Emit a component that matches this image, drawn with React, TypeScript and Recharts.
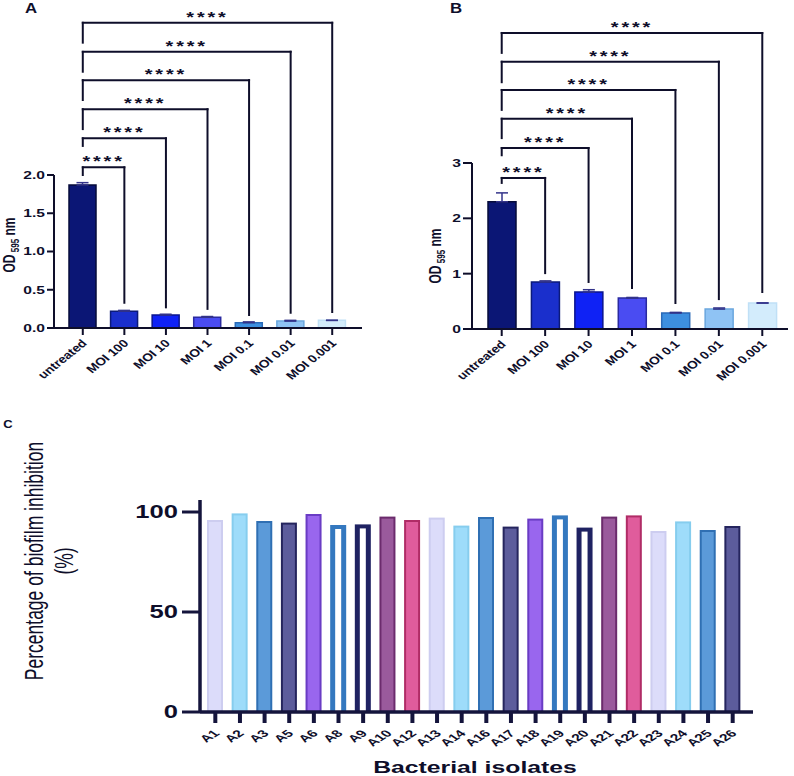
import React from 'react';
import { BarChart, Bar, XAxis, YAxis, Cell, ErrorBar, ReferenceLine } from 'recharts';

const FONT = '"Liberation Sans", Arial, sans-serif';
const INK = '#0e0e2a';
const SX = 1.42; // glyphs in this figure are drawn wide

const treatments = ['untreated', 'MOI 100', 'MOI 10', 'MOI 1', 'MOI 0.1', 'MOI 0.01', 'MOI 0.001'];

// panel A: OD595 per treatment
const odA = [1.87, 0.22, 0.17, 0.14, 0.07, 0.09, 0.1];
const errA = [0.03, 0.01, 0.01, 0.01, 0.01, 0.01, 0];
// panel B: OD595 per treatment
const odB = [2.3, 0.85, 0.67, 0.56, 0.29, 0.36, 0.47];
const errB = [0.16, 0.02, 0.04, 0.01, 0.01, 0.02, 0];

// significance brackets, untreated vs MOI 100 ... MOI 0.001 (innermost first)
const sigLabels = ['****', '****', '****', '****', '****', '****'];
const bracketA = [2.1, 2.48, 2.86, 3.24, 3.61, 3.99];
const legA = [2.0, 2.38, 2.6, 2.98, 3.35, 3.73];
const dropA = [0.33, 0.27, 0.25, 0.17, 0.2, 0.21];
const bracketB = [2.73, 3.27, 3.8, 4.32, 4.83, 5.35];
const legB = [2.64, 3.14, 3.45, 3.96, 4.46, 4.99];
const dropB = [1.01, 0.85, 0.74, 0.47, 0.54, 0.67];

const ticksA = [0, 0.5, 1, 1.5, 2];
const ticksB = [0, 1, 2, 3];

const treatmentFill = ['#0b1675', '#1a2fcc', '#0f22f5', '#4a4cf2', '#3d8fe0', '#8fc3f4', '#d3ecfc'];
const treatmentStroke = ['#060b3a', '#0b1a7a', '#0a148f', '#2a2aa0', '#2a6ab8', '#6aa6de', '#c0e0f6'];

// panel C: biofilm inhibition per isolate
const isolates = ['A1', 'A2', 'A3', 'A5', 'A6', 'A8', 'A9', 'A10', 'A12', 'A13', 'A14', 'A16', 'A17', 'A18', 'A19', 'A20', 'A21', 'A22', 'A23', 'A24', 'A25', 'A26'];
const inhibition = [96, 99.3, 95.5, 94.7, 99, 93.5, 93.8, 97.7, 96, 97.2, 93.2, 97.5, 92.7, 96.7, 98.3, 92.2, 97.7, 98.3, 90.5, 95.3, 91, 93];
const ticksC = [0, 50, 100];

// colour cycle for the isolates (repeats every 9 bars)
const isoFill = ['#dcdcfa', '#9edcfa', '#5b9ad9', '#5c5c9c', '#9966ee', '#ffffff', '#ffffff', '#9a5a9c', '#e05c9c'];
const isoStroke = ['#cdcdf0', '#86cdee', '#2f6fb3', '#25255e', '#6a3cc4', '#3478bf', '#1f2262', '#6b2b6c', '#b02c66'];
const isoHollow = [false, false, false, false, false, true, true, false, false];

const SlantTick = (props: any) => {
  const { x, y, payload, size, dx, dy, sx } = props;
  return (
    <text
      transform={`translate(${x + dx},${y + dy}) scale(${sx},1) rotate(-45)`}
      textAnchor="end"
      fontSize={size}
      fontWeight="bold"
      fontFamily={FONT}
      fill={INK}
    >
      {payload.value}
    </text>
  );
};

const ValueTick = (props: any) => {
  const { x, y, payload, size, digits } = props;
  return (
    <text
      transform={`translate(${x},${y}) scale(${SX},1)`}
      textAnchor="end"
      dy="0.36em"
      fontSize={size}
      fontWeight="bold"
      fontFamily={FONT}
      fill={INK}
    >
      {Number(payload.value).toFixed(digits)}
    </text>
  );
};

const Stars = (props: any) => {
  const vb = props.viewBox || {};
  const x1 = vb.x1 ?? vb.x;
  const x2 = vb.x2 ?? vb.x + vb.width;
  const y = vb.y1 ?? vb.y;
  return (
    <text
      transform={`translate(${(x1 + x2) / 2},${y - 1}) scale(${SX},1)`}
      textAnchor="middle"
      fontSize={14}
      fontWeight="bold"
      letterSpacing={2}
      fontFamily={FONT}
      fill={INK}
    >
      {props.text}
    </text>
  );
};

const IsolateBar = (props: any) => {
  const { x, y, width, height } = props;
  const i = props.payload?.i ?? props.index ?? 0;
  const k = i % 9;
  if (isoHollow[k]) {
    return (
      <g>
        <rect x={x} y={y} width={width} height={height} fill={isoStroke[k]} />
        <rect x={x + 5} y={y + 4} width={width - 10} height={height - 4} fill="#fff" />
      </g>
    );
  }
  return (
    <rect x={x + 1} y={y + 1} width={width - 2} height={height - 1} fill={isoFill[k]} stroke={isoStroke[k]} strokeWidth={2} />
  );
};

const ODPanel = (p: any) => {
  const data = treatments.map((name, i) => ({ name, od: p.values[i], err: [0, p.errs[i]] }));
  const line = { stroke: INK, strokeWidth: 2, ifOverflow: 'visible' as const, strokeLinecap: 'square' as const };
  return (
    <BarChart width={p.width} height={390} data={data} margin={p.margin}>
      <XAxis
        dataKey="name"
        interval={0}
        height={p.xHeight}
        padding={p.padding}
        axisLine={{ stroke: INK, strokeWidth: 2 }}
        tickLine={{ stroke: INK, strokeWidth: 2 }}
        tickSize={7}
        tick={<SlantTick size={11} dx={5} dy={7} sx={1.25} />}
      />
      <YAxis
        width={p.yWidth}
        domain={[0, p.yMax]}
        ticks={p.ticks}
        interval={0}
        axisLine={{ stroke: INK, strokeWidth: 2 }}
        tickLine={{ stroke: INK, strokeWidth: 2 }}
        tickSize={p.tickSize}
        tickMargin={2}
        tick={<ValueTick size={11} digits={p.digits} />}
      />
      <Bar dataKey="od" barSize={p.barSize} strokeWidth={1.5} isAnimationActive={false}>
        {data.map((d, i) => (
          <Cell key={d.name} fill={treatmentFill[i]} stroke={treatmentStroke[i]} />
        ))}
        <ErrorBar dataKey="err" width={6} stroke="#33338a" strokeWidth={1.5} direction="y" isAnimationActive={false} />
      </Bar>
      {p.brackets.map((h: number, i: number) => {
        const target = treatments[i + 1];
        return [
          <ReferenceLine
            key={`top${i}`}
            segment={[{ x: treatments[0], y: h }, { x: target, y: h }]}
            {...line}
            label={<Stars text={sigLabels[i]} />}
          />,
          <ReferenceLine key={`leg${i}`} segment={[{ x: treatments[0], y: h }, { x: treatments[0], y: p.legs[i] }]} {...line} />,
          <ReferenceLine key={`drop${i}`} segment={[{ x: target, y: h }, { x: target, y: p.drops[i] }]} {...line} />,
        ];
      })}
    </BarChart>
  );
};

const IsolatePanel = () => {
  const data = isolates.map((name, i) => ({ name, i, value: inhibition[i] }));
  return (
    <BarChart width={794} height={396} data={data} margin={{ top: 120, right: 41, left: 0, bottom: 0 }}>
      <XAxis
        dataKey="name"
        interval={0}
        height={64}
        padding={{ left: 3, right: 8 }}
        axisLine={{ stroke: '#14143c', strokeWidth: 3.5 }}
        tickLine={{ stroke: '#14143c', strokeWidth: 4 }}
        tickSize={11}
        tick={<SlantTick size={10} dx={5} dy={9} sx={1.55} />}
      />
      <YAxis
        width={200}
        domain={[0, 106]}
        ticks={ticksC}
        interval={0}
        axisLine={{ stroke: '#14143c', strokeWidth: 3.5 }}
        tickLine={{ stroke: '#14143c', strokeWidth: 3 }}
        tickSize={18}
        tickMargin={4}
        tick={<ValueTick size={18} digits={0} />}
      />
      <Bar dataKey="value" barSize={16} shape={<IsolateBar />} isAnimationActive={false} />
    </BarChart>
  );
};

const title = (extra: React.CSSProperties): React.CSSProperties => ({
  position: 'absolute',
  whiteSpace: 'nowrap',
  fontFamily: FONT,
  color: INK,
  lineHeight: 1.2,
  ...extra,
});

export default function App() {
  return (
    <div style={{ position: 'absolute', left: 0, top: 0, width: 794, height: 776, background: '#fff', overflow: 'hidden' }}>
      <div style={{ position: 'absolute', left: 0, top: 0 }}>
        <ODPanel
          width={400}
          margin={{ top: 175, right: 38, left: 0, bottom: 0 }}
          xHeight={62}
          yWidth={54}
          padding={{ left: 8, right: 9 }}
          values={odA}
          errs={errA}
          yMax={2}
          ticks={ticksA}
          tickSize={7}
          digits={1}
          barSize={27}
          brackets={bracketA}
          legs={legA}
          drops={dropA}
        />
      </div>
      <div style={{ position: 'absolute', left: 400, top: 0 }}>
        <ODPanel
          width={394}
          margin={{ top: 163, right: 6, left: 0, bottom: 0 }}
          xHeight={61}
          yWidth={72}
          padding={{ left: 8, right: 4 }}
          values={odB}
          errs={errB}
          yMax={3}
          ticks={ticksB}
          tickSize={9}
          digits={0}
          barSize={28}
          brackets={bracketB}
          legs={legB}
          drops={dropB}
        />
      </div>
      <div style={{ position: 'absolute', left: 0, top: 380 }}>
        <IsolatePanel />
      </div>

      <div style={title({ left: 31, top: 8, fontSize: 14, fontWeight: 'bold', transform: `translate(-50%,-50%) scaleX(1.2)` })}>A</div>
      <div style={title({ left: 456, top: 8, fontSize: 14, fontWeight: 'bold', transform: `translate(-50%,-50%) scaleX(1.2)` })}>B</div>
      <div style={title({ left: 8, top: 425, fontSize: 10, fontWeight: 'bold', transform: `translate(-50%,-50%) scaleX(1.3)` })}>C</div>

      <div style={title({ left: 11, top: 245, fontSize: 12, fontWeight: 'bold', transform: `translate(-50%,-50%) rotate(-90deg) scaleY(${SX})` })}>
        OD<sub style={{ fontSize: 8 }}> 595</sub> nm
      </div>
      <div style={title({ left: 437, top: 256, fontSize: 12, fontWeight: 'bold', transform: `translate(-50%,-50%) rotate(-90deg) scaleY(${SX})` })}>
        OD<sub style={{ fontSize: 8 }}> 595</sub> nm
      </div>

      <div style={title({ left: 50, top: 561, fontSize: 17.5, textAlign: 'center', transform: `translate(-50%,-50%) rotate(-90deg) scaleY(${SX})` })}>
        Percentage of biofilm inhibition
        <br />
        (%)
      </div>
      <div style={title({ left: 475, top: 768, fontSize: 16.5, fontWeight: 'bold', transform: `translate(-50%,-50%) scaleX(1.5)` })}>
        Bacterial isolates
      </div>
    </div>
  );
}
